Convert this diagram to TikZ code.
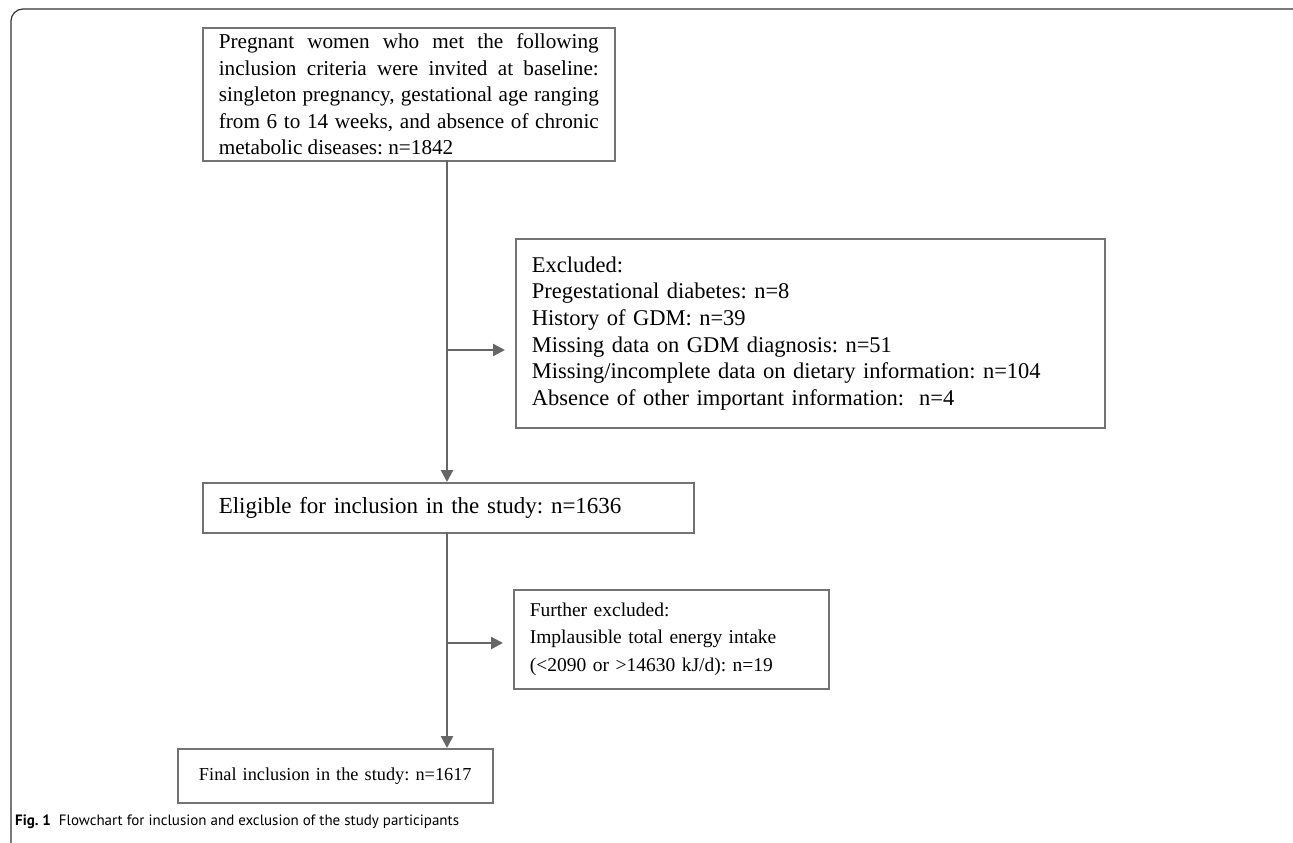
\documentclass[tikz,border=0pt]{standalone}
\usepackage{fontspec}
\setmainfont{Liberation Serif}
\newfontfamily\capfont{PT Sans}
\usetikzlibrary{arrows.meta}
\frenchspacing

\tikzset{
    flowbox/.style={draw=black!55, line width=1.6pt, font=\fontsize{23}{26.6}\selectfont,
        inner xsep=16pt, inner ysep=4pt, align=left, anchor=north west},
    flowline/.style={draw=black!60, line width=2.4pt},
    flowarrow/.style={flowline, -{Triangle[length=12pt, width=12pt]}}
}

\begin{document}
\begin{tikzpicture}[x=1pt, y=-1pt]
    \useasboundingbox (0,0) rectangle (1293,843);
    \begin{scope}
        \clip (0,0) rectangle (1293,843);
        \draw[rounded corners=12pt, line width=1.2pt, black!80] (11,9) rectangle (1310,870);
    \end{scope}

    % boxes
    \node[flowbox, minimum width=410pt, minimum height=133pt, text width=380pt, align=justify,
        font=\fontsize{21.2}{26.5}\selectfont] (base) at (202,27)
        {Pregnant women who met the following\linebreak inclusion criteria were invited at baseline:\linebreak singleton pregnancy, gestational age ranging\linebreak from 6 to 14 weeks, and absence of chronic\linebreak metabolic diseases: n=1842};
    \node[flowbox, minimum width=589pt, minimum height=189pt, text width=557pt,
        font=\fontsize{22.5}{26.6}\selectfont] (excl) at (515,238)
        {Excluded:\\ Pregestational diabetes: n=8\\ History of GDM: n=39\\ Missing data on GDM diagnosis: n=51\\ Missing/incomplete data on dietary information: n=104\\ Absence of other important information:\ \ n=4};
    \node[flowbox, minimum width=491pt, minimum height=50pt, text width=459pt] (elig) at (202,482)
        {Eligible for inclusion in the study: n=1636};
    \node[flowbox, minimum width=315pt, minimum height=99pt, text width=283pt,
        font=\fontsize{19.5}{27.5}\selectfont] (further) at (513,589)
        {Further excluded:\\ Implausible total energy intake\\ (<2090 or >14630 kJ/d): n=19};
    \node[flowbox, minimum width=315pt, minimum height=54pt, text width=283pt, align=center,
        font=\fontsize{18.3}{22}\selectfont] (final) at (177,748)
        {Final inclusion in the study: n=1617};

    % connectors
    \coordinate (top) at (447,160);
    \coordinate (mid) at (447,532);
    \coordinate (b1) at (447,350);
    \coordinate (b2) at (447,643);
    \draw[flowarrow] (top) -- (top |- elig.north);
    \draw[flowarrow] (mid) -- (mid |- final.north);
    \draw[flowarrow, shorten >=10pt] (b1) -- (b1 -| excl.west);
    \draw[flowarrow, shorten >=10pt] (b2) -- (b2 -| further.west);

    \node[anchor=west, inner sep=0pt, font=\capfont\fontsize{15}{18}\selectfont] (cap) at (15,822)
        {\textbf{Fig. 1}\ \ Flowchart for inclusion and exclusion of the study participants};
\end{tikzpicture}
\end{document}
